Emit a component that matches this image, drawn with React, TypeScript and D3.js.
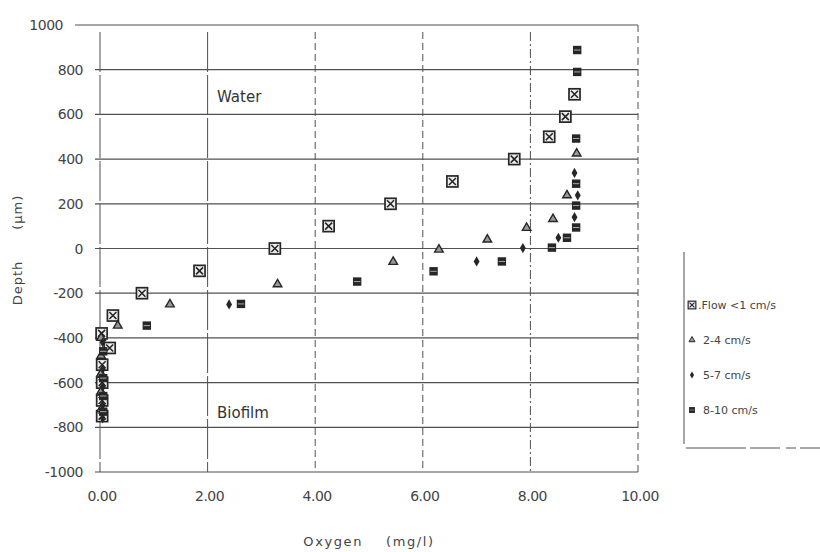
import * as d3 from "d3";

// Oxygen (mg/l) vs depth (µm) per flow regime
const flowLt1: [number, number][] = [
  [0.03, -380], [0.24, -300], [0.18, -445], [0.78, -200], [1.85, -100],
  [3.25, 0], [4.25, 100], [5.4, 200], [6.55, 300], [7.7, 400],
  [8.35, 500], [8.65, 590], [8.82, 690],
  [0.04, -520], [0.04, -600], [0.04, -680], [0.04, -750]
];
const flow2to4: [number, number][] = [
  [0.33, -345], [1.3, -250], [3.3, -160], [5.45, -60], [6.3, -5],
  [7.2, 40], [7.93, 92], [8.42, 132], [8.68, 238], [8.86, 425],
  [0.02, -400], [0.02, -480], [0.02, -560], [0.02, -640], [0.02, -720]
];
const flow5to7: [number, number][] = [
  [2.4, -250], [7.0, -58], [7.86, 2], [8.52, 48], [8.82, 140],
  [8.88, 238], [8.82, 338],
  [0.05, -420], [0.05, -540], [0.05, -620], [0.05, -700], [0.05, -760]
];
const flow8to10: [number, number][] = [
  [0.87, -345], [2.62, -248], [4.78, -148], [6.2, -102], [7.47, -58],
  [8.4, 4], [8.68, 48], [8.85, 94], [8.85, 192], [8.85, 290],
  [8.85, 492], [8.87, 790], [8.87, 888],
  [0.06, -460], [0.06, -580], [0.06, -660], [0.06, -730]
];

const xTicks = [0, 2, 4, 6, 8, 10];
const yTicks = [1000, 800, 600, 400, 200, 0, -200, -400, -600, -800, -1000];
const legendLabels = [".Flow <1 cm/s", "2-4 cm/s", "5-7 cm/s", "8-10 cm/s"];

const INK = "#262626";
const GRID = "#505050";
const FONT = "'DejaVu Sans', sans-serif";

const x = d3.scaleLinear().domain([0, 10]).range([100, 638]);
const y = d3.scaleLinear().domain([-1000, 1000]).range([472, 25]);

type Kind = "box" | "tri" | "dia" | "sq";

const Marker = ({ kind, cx, cy }: { kind: Kind; cx: number; cy: number }) => {
  if (kind === "box") {
    const s = 5.5;
    return (
      <g>
        <rect x={cx - s} y={cy - s} width={s * 2} height={s * 2} fill="#eee" stroke={INK} strokeWidth={1.7} />
        <path d={`M${cx - s + 2},${cy - s + 2}L${cx + s - 2},${cy + s - 2}M${cx + s - 2},${cy - s + 2}L${cx - s + 2},${cy + s - 2}`} stroke={INK} strokeWidth={1.6} />
      </g>
    );
  }
  if (kind === "tri") {
    const p = d3.symbol(d3.symbolTriangle, 32)() as string;
    return <path d={p} transform={`translate(${cx},${cy})`} fill="#999" stroke={INK} strokeWidth={1.4} />;
  }
  if (kind === "dia") {
    const p = d3.symbol(d3.symbolDiamond, 30)() as string;
    return <path d={p} transform={`translate(${cx},${cy})`} fill={INK} />;
  }
  const s = 4.2;
  return (
    <g>
      <rect x={cx - s} y={cy - s} width={s * 2} height={s * 2} fill={INK} />
      <line x1={cx - s + 1} x2={cx + s - 1} y1={cy} y2={cy} stroke="#aaa" strokeWidth={1} />
    </g>
  );
};

const series: { kind: Kind; data: [number, number][] }[] = [
  { kind: "box", data: flowLt1 },
  { kind: "tri", data: flow2to4 },
  { kind: "dia", data: flow5to7 },
  { kind: "sq", data: flow8to10 }
];

export default function App() {
  const legendY = [305, 340, 375, 410];
  return (
    <svg
      width={820}
      height={552}
      style={{ position: "absolute", left: 0, top: 0, background: "#fff" }}
      fontFamily={FONT}
    >
      {/* horizontal grid */}
      {yTicks.map((t) => (
        <line
          key={"h" + t}
          x1={t === 1000 ? 75 : 95}
          x2={x(10)}
          y1={y(t)}
          y2={y(t)}
          stroke={GRID}
          strokeWidth={1.2}
        />
      ))}
      {/* vertical grid */}
      {xTicks.map((t) => (
        <line
          key={"v" + t}
          x1={x(t)}
          x2={x(t)}
          y1={t === 10 ? y(1000) : y(1000) + 7}
          y2={y(-1000)}
          stroke={GRID}
          strokeWidth={1}
          strokeDasharray={t <= 2 ? "40,3" : t === 8 ? "9,3,2,3" : "7,4"}
        />
      ))}

      {/* y tick labels */}
      {yTicks.map((t) => (
        <text
          key={"yl" + t}
          x={t === 1000 ? 63 : 83}
          y={y(t) + 5}
          textAnchor="end"
          fontSize={14}
          fill="#444"
          letterSpacing={-0.5}
        >
          {t < 0 ? "-" + Math.abs(t) : t}
        </text>
      ))}
      {/* x tick labels */}
      {xTicks.map((t) => (
        <text
          key={"xl" + t}
          x={x(t) + 2}
          y={501}
          textAnchor="middle"
          fontSize={14}
          fill="#444"
          letterSpacing={-0.5}
        >
          {t.toFixed(2)}
        </text>
      ))}

      {/* axis titles */}
      <text x={369} y={546} textAnchor="middle" fontSize={13} fill="#444" letterSpacing={1.6} xmlSpace="preserve">
        {"Oxygen    (mg/l)"}
      </text>
      <text
        transform="translate(22,250) rotate(-90)"
        textAnchor="middle"
        fontSize={13}
        fill="#444"
        letterSpacing={1}
        xmlSpace="preserve"
      >
        {"Depth      (µm)"}
      </text>

      <text x={217} y={102} fontSize={15} fill="#333">Water</text>
      <text x={217} y={418} fontSize={15} fill="#333">Biofilm</text>

      {/* data */}
      {series.map((s) =>
        s.data.map((d, i) => (
          <Marker key={s.kind + i} kind={s.kind} cx={x(d[0])} cy={y(d[1])} />
        ))
      )}

      {/* legend */}
      <line x1={684} x2={684} y1={252} y2={444} stroke={GRID} strokeWidth={1} />
      <line x1={686} x2={820} y1={448} y2={448} stroke={GRID} strokeWidth={1} strokeDasharray="60,4,30,6,10,4" />
      {series.map((s, i) => (
        <g key={"lg" + i}>
          <g transform={`translate(${692},${legendY[i]}) scale(0.7) translate(${-692},${-legendY[i]})`}>
            <Marker kind={s.kind} cx={692} cy={legendY[i]} />
          </g>
          <text x={i === 0 ? 698 : 703} y={legendY[i] + 4} fontSize={11} fill="#444">
            {legendLabels[i]}
          </text>
        </g>
      ))}
    </svg>
  );
}
